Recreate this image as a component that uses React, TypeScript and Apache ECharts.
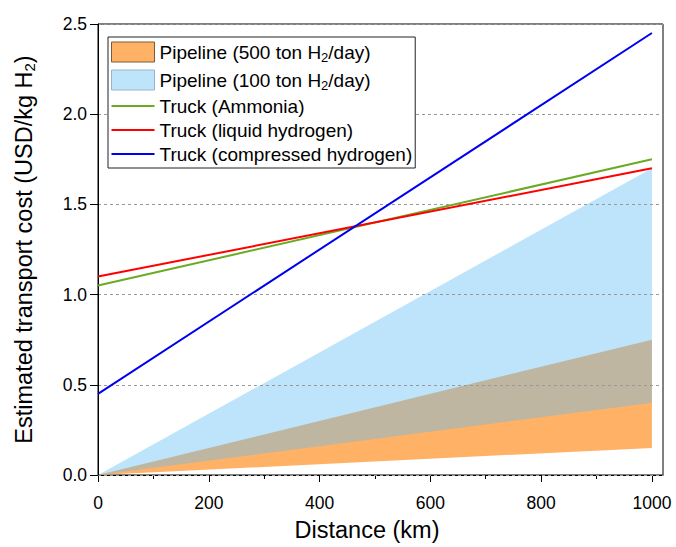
import React, { useEffect, useRef } from "react";
import * as echarts from "echarts";

const FONT = "Liberation Sans, Arial, sans-serif";

const distance = [0, 1000];
const pipe500Low = [0, 0.15];
const pipe500High = [0, 0.75];
const pipe100Low = [0, 0.4];
const pipe100High = [0, 1.7];
const truckAmmonia = [1.05, 1.75];
const truckLiquid = [1.1, 1.7];
const truckCompressed = [0.45, 2.45];

const xMajorTicks = [0, 200, 400, 600, 800, 1000];
const xMinorTicks = [100, 300, 500, 700, 900];

const P500 = "Pipeline (500 ton H2/day)";
const P100 = "Pipeline (100 ton H2/day)";
const T_NH3 = "Truck (Ammonia)";
const T_LH2 = "Truck (liquid hydrogen)";
const T_CH2 = "Truck (compressed hydrogen)";

const C_ORANGE = "#FFB266";
const C_BLUE = "#5DBCF8";
const C_GREEN = "#6BAA24";
const C_RED = "#FF0000";
const C_NAVY = "#0000F0";

const pairs = (ys: number[]) => distance.map((x, i) => [x, ys[i]]);

const band = (name: string, lo: number[], hi: number[], fill: string, opacity: number, z: number) => ({
  type: "custom",
  name,
  coordinateSystem: "cartesian2d",
  data: [[0, 0]],
  z,
  silent: true,
  renderItem: (_params: any, api: any) => {
    const lower = distance.map((x, i) => api.coord([x, lo[i]]));
    const upper = distance.map((x, i) => api.coord([x, hi[i]])).reverse();
    return {
      type: "polygon",
      shape: { points: lower.concat(upper) },
      style: { fill, opacity },
    };
  },
});

const lineIcon = "path://M0,0H43V2H0Z";

export default function App() {
  const ref = useRef<HTMLDivElement>(null);
  useEffect(() => {
    if (!ref.current) return;
    const chart = echarts.init(ref.current, null, { renderer: "svg" });
    const option: any = {
      animation: false,
      backgroundColor: "#fff",
      grid: {
        left: 98,
        right: 13,
        top: 24,
        bottom: 68,
        show: true,
        borderColor: "#000",
        borderWidth: 1,
        backgroundColor: "transparent",
      },
      legend: {
        orient: "vertical",
        left: 108,
        top: 37,
        backgroundColor: "#fff",
        borderColor: "#222",
        borderWidth: 1,
        borderRadius: 0,
        padding: [3, 3, 4, 3],
        itemWidth: 43,
        itemHeight: 20,
        itemGap: 4,
        selectedMode: false,
        textStyle: {
          fontFamily: FONT,
          fontSize: 19,
          color: "#000",
          lineHeight: 20,
          rich: {
            n: { fontFamily: FONT, fontSize: 19, color: "#000", lineHeight: 24 },
            s: { fontFamily: FONT, fontSize: 13, color: "#000", lineHeight: 12, verticalAlign: "bottom" },
          },
        },
        formatter: (name: string) => {
          const idx = name.indexOf("H2");
          if (idx < 0) return name;
          return `{n|${name.slice(0, idx + 1)}}{s|2}{n|${name.slice(idx + 2)}}`;
        },
        data: [
          { name: P500, icon: "rect", itemStyle: { color: C_ORANGE, borderColor: "#7a5a3a", borderWidth: 1 } },
          { name: P100, icon: "rect", itemStyle: { color: "#BEE4FB", borderColor: "#9ab4c6", borderWidth: 1 } },
          { name: T_NH3, icon: lineIcon, itemStyle: { color: C_GREEN, borderWidth: 0 } },
          { name: T_LH2, icon: lineIcon, itemStyle: { color: C_RED, borderWidth: 0 } },
          { name: T_CH2, icon: lineIcon, itemStyle: { color: C_NAVY, borderWidth: 0 } },
        ],
      },
      xAxis: [
        {
          type: "value",
          min: 0,
          max: 1020,
          interval: 200,
          position: "bottom",
          name: "Distance (km)",
          nameLocation: "middle",
          nameGap: 43,
          nameTextStyle: { fontFamily: FONT, fontSize: 23.5, color: "#000", padding: [0, 27, 0, 0] },
          axisLine: { show: true, lineStyle: { color: "#000", width: 1 } },
          axisTick: { show: true, inside: false, length: 7, customValues: xMajorTicks, lineStyle: { color: "#000" } },
          axisLabel: {
            customValues: xMajorTicks,
            fontFamily: FONT,
            fontSize: 17.5,
            color: "#000",
            margin: 19,
            formatter: (v: number) => String(v),
          },
          splitLine: { show: false },
        },
        {
          type: "value",
          min: 0,
          max: 1020,
          position: "bottom",
          axisLine: { show: false },
          axisTick: { show: true, inside: false, length: 4, customValues: xMinorTicks, lineStyle: { color: "#000" } },
          axisLabel: { show: false },
          splitLine: { show: false },
        },
      ],
      yAxis: {
        type: "value",
        min: 0,
        max: 2.5,
        interval: 0.5,
        z: 3,
        name: "{n|Estimated transport cost (USD/kg H}{s|2}{n|)}",
        nameLocation: "middle",
        nameRotate: 90,
        nameGap: 61,
        nameTextStyle: {
          fontFamily: FONT,
          fontSize: 23.5,
          color: "#000",
          rich: {
            n: { fontFamily: FONT, fontSize: 23.5, color: "#000", lineHeight: 26 },
            s: { fontFamily: FONT, fontSize: 15, color: "#000", lineHeight: 13, verticalAlign: "bottom" },
          },
        },
        axisLine: { show: true, lineStyle: { color: "#000", width: 1 } },
        axisTick: { show: true, inside: false, length: 8, lineStyle: { color: "#000" } },
        axisLabel: {
          fontFamily: FONT,
          fontSize: 17.5,
          color: "#000",
          margin: 11,
          formatter: (v: number) => v.toFixed(1),
        },
        splitLine: { show: true, lineStyle: { color: "#999", type: [3, 3], width: 1 } },
      },
      series: [
        band(P500, pipe500Low, pipe500High, C_ORANGE, 1, 1),
        band(P100, pipe100Low, pipe100High, C_BLUE, 0.4, 2),
        {
          type: "line",
          name: T_NH3,
          data: pairs(truckAmmonia),
          symbol: "none",
          itemStyle: { color: C_GREEN },
          lineStyle: { color: C_GREEN, width: 2 },
          z: 5,
        },
        {
          type: "line",
          name: T_LH2,
          data: pairs(truckLiquid),
          symbol: "none",
          itemStyle: { color: C_RED },
          lineStyle: { color: C_RED, width: 2 },
          z: 5,
        },
        {
          type: "line",
          name: T_CH2,
          data: pairs(truckCompressed),
          symbol: "none",
          itemStyle: { color: C_NAVY },
          lineStyle: { color: C_NAVY, width: 2 },
          z: 5,
        },
      ],
    };
    chart.setOption(option);
    return () => chart.dispose();
  }, []);
  return (
    <div
      ref={ref}
      style={{ position: "fixed", left: 0, top: 0, width: 676, height: 547, background: "#fff" }}
    />
  );
}
